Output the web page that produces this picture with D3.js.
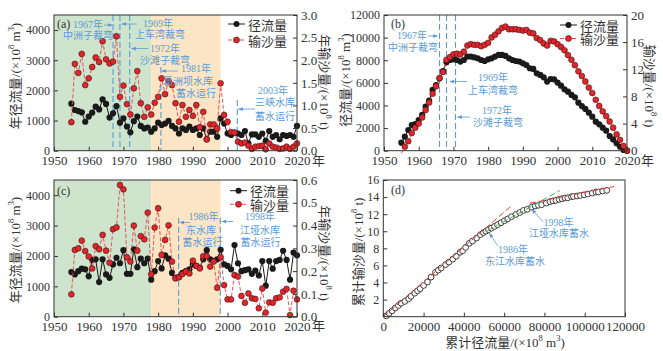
<!DOCTYPE html>
<html>
<head>
<meta charset="utf-8">
<script src="https://cdn.jsdelivr.net/npm/d3@7"></script>
<style>
body { margin: 0; background: #fff; }
svg { display: block; }
</style>
</head>
<body>
<script>
// years shared by every panel
var years = [1955,1956,1957,1958,1959,1960,1961,1962,1963,1964,
    1965,1966,1967,1968,1969,1970,1971,1972,1973,1974,
    1975,1976,1977,1978,1979,1980,1981,1982,1983,1984,
    1985,1986,1987,1988,1989,1990,1991,1992,1993,1994,
    1995,1996,1997,1998,1999,2000,2001,2002,2003,2004,
    2005,2006,2007,2008,2009,2010,2011,2012,2013,2014,
    2015,2016,2017,2018,2019,2020];

// (a) annual runoff (1e8 m3) and sediment (1e8 t)
var runoffA = [1560,1350,1315,1270,960,1130,1260,1460,1370,1700,
    1550,1100,1240,1480,930,1070,800,610,980,1130,
    820,740,770,630,740,930,850,900,990,820,
    740,570,740,690,800,690,740,520,740,380,
    630,630,460,1070,900,570,520,600,570,520,
    650,240,540,540,460,570,330,650,460,520,
    380,520,490,520,460,820];
var sedimentA = [0.63,1.92,1.72,2.14,1.45,1.60,1.85,2.06,1.96,2.42,
    2.02,1.93,1.97,2.53,1.19,1.44,1.03,0.80,1.38,1.76,
    1.05,0.75,0.96,0.80,1.06,1.19,1.60,1.25,1.54,1.45,
    1.05,0.64,1.01,0.75,0.90,0.77,1.01,0.52,0.86,0.25,
    0.58,0.58,0.49,1.49,0.79,0.64,0.41,0.40,0.20,0.16,
    0.18,0.11,0.04,0.09,0.10,0.11,0.03,0.16,0.09,0.07,
    0.04,0.05,0.09,0.04,0.09,0.16];

// (b) cumulative values
var runoffB = [710,1240,1830,2270,2360,2710,3160,3890,4420,5370,
    5810,6400,7050,7820,8020,8080,8020,7880,8020,8320,
    8320,8260,8170,8020,7930,8080,8170,8320,8470,8470,
    8380,8170,8020,7930,7880,7730,7580,7290,7230,6840,
    6700,6490,6110,6340,6310,6020,5750,5430,5220,4930,
    4720,4250,3950,3690,3360,3010,2570,2330,2040,1770,
    1300,1000,650,350,60,0];
var sedimentB = [-0.4,0.6,1.4,2.6,3.4,4.0,4.9,6.0,7.1,8.4,
    9.5,10.7,11.6,13.4,13.8,14.2,14.3,14.2,14.6,15.5,
    15.7,15.6,15.6,15.4,15.6,15.9,16.7,17.1,17.6,18.1,
    18.3,17.9,17.9,17.9,17.8,17.7,17.8,17.4,17.3,16.6,
    16.3,15.8,15.5,16.2,16.1,15.7,15.3,14.8,14.1,13.4,
    12.6,11.7,11.0,10.2,9.3,8.5,7.5,6.6,5.8,5.1,
    4.3,3.4,2.4,1.6,0.7,0.0];

// (c) annual runoff and sediment
var runoffC = [1470,1390,1500,1580,1560,1330,1870,1890,1140,1890,
    1390,1280,1720,1940,1760,2190,1410,1410,2220,1630,
    1910,1760,1910,1220,1500,1830,1590,2020,1910,1440,
    1280,1310,1440,1500,1560,1720,1670,1610,1890,2190,
    1890,1830,1890,2200,1720,1670,1560,2360,1760,1500,
    1530,1560,1410,1520,1360,1830,1020,1830,1580,1830,
    1870,2170,1870,1220,2110,2020];
var sedimentC = [0.098,0.293,0.300,0.334,0.288,0.264,0.212,0.310,0.296,0.359,
    0.290,0.237,0.384,0.392,0.578,0.559,0.261,0.242,0.400,0.290,
    0.354,0.340,0.457,0.186,0.391,0.476,0.271,0.337,0.401,0.242,
    0.168,0.173,0.187,0.198,0.190,0.246,0.223,0.212,0.266,0.266,
    0.220,0.242,0.127,0.261,0.139,0.076,0.076,0.183,0.176,0.091,
    0.061,0.102,0.081,0.078,0.037,0.124,0.018,0.063,0.061,0.081,
    0.085,0.110,0.122,0.007,0.114,0.076];

// (d) double mass curve
var cumRunoffD = [1470,2860,4360,5940,7500,8830,10700,12590,13730,15620,
    17010,18290,20010,21950,23710,25900,27310,28720,30940,32570,
    34480,36240,38150,39370,40870,42700,44290,46310,48220,49660,
    50940,52250,53690,55190,56750,58470,60140,61750,63640,65830,
    67720,69550,71440,73640,75360,77030,78590,80950,82710,84210,
    85740,87300,88710,90230,91590,93420,94440,96270,97850,99680,
    101550,103720,105590,106810,108920,110940];
var cumSedimentD = [0.10,0.39,0.69,1.02,1.31,1.58,1.79,2.10,2.39,2.75,
    3.04,3.28,3.66,4.06,4.63,5.19,5.45,5.70,6.10,6.39,
    6.74,7.08,7.54,7.72,8.11,8.59,8.86,9.20,9.60,9.84,
    10.01,10.18,10.37,10.57,10.76,11.00,11.23,11.44,11.71,11.97,
    12.19,12.44,12.56,12.82,12.96,13.04,13.11,13.30,13.47,13.56,
    13.62,13.73,13.81,13.89,13.92,14.05,14.07,14.13,14.19,14.27,
    14.36,14.47,14.59,14.60,14.71,14.79];
var fitLinesD = [
    {x0: 0, y0: 0, x1: 64200, y1: 13.1, color: "red"},
    {x0: 51300, y0: 10.0, x1: 87700, y1: 14.77, color: "green"},
    {x0: 72800, y0: 13.28, x1: 114500, y1: 15.23, color: "red"}
];

var periods = [[1950, 1978], [1978, 1998]];
var eventsA = [1967, 1969, 1971.8, 1980.8, 2002.8];
var eventsB = [1966, 1968, 1970.6];
var eventsC = [1985.9, 1997.9];

var yearTicks = [1950,1960,1970,1980,1990,2000,2010,2020];

var width = 663, height = 351;
var blue = "#5b9bd5";
var red = "#e3262b";
var ink = "#333";
var font = '"Liberation Serif","Noto Sans CJK SC",serif';
var cjk = '"Noto Sans CJK SC","Liberation Serif",sans-serif';

var svg = d3.select("body").append("svg")
    .attr("width", width)
    .attr("height", height);

svg.append("defs").append("marker")
    .attr("id", "arr")
    .attr("viewBox", "0 0 8 8")
    .attr("refX", 7).attr("refY", 4)
    .attr("markerUnits", "userSpaceOnUse")
    .attr("markerWidth", 5).attr("markerHeight", 5)
    .attr("orient", "auto")
    .append("path").attr("d", "M0,1 L8,4 L0,7 z").attr("fill", blue);

function styleAxis(g, size) {
    g.attr("font-family", font).attr("font-size", size);
    g.select(".domain").remove();
    g.selectAll(".tick line").attr("stroke", ink);
    g.selectAll(".tick text").attr("fill", ink);
}

function frame(x, y) {
    svg.append("rect")
        .attr("x", x.range()[0]).attr("y", y.range()[1])
        .attr("width", x.range()[1] - x.range()[0])
        .attr("height", y.range()[0] - y.range()[1])
        .attr("fill", "none").attr("stroke", ink).attr("stroke-width", 1);
}

function bottomAxis(x, y, ticks, fmt) {
    var g = svg.append("g")
        .attr("transform", `translate(0,${y.range()[0]})`)
        .call(d3.axisBottom(x).tickValues(ticks).tickSize(-4).tickPadding(5).tickFormat(fmt));
    styleAxis(g, 13);
}

function leftAxis(x, y, ticks, fmt) {
    var g = svg.append("g")
        .attr("transform", `translate(${x.range()[0]},0)`)
        .call(d3.axisLeft(y).tickValues(ticks).tickSize(-4).tickPadding(4).tickFormat(fmt));
    styleAxis(g, 12);
}

function rightAxis(x, y, ticks, fmt) {
    var g = svg.append("g")
        .attr("transform", `translate(${x.range()[1]},0)`)
        .call(d3.axisRight(y).tickValues(ticks).tickSize(-4).tickPadding(4).tickFormat(fmt));
    styleAxis(g, 13);
}

// rotated axis title with superscripts: parts = [[text, isSup], ...]
function title(x, y, rot, parts, size) {
    var t = svg.append("text")
        .attr("transform", `translate(${x},${y}) rotate(${rot})`)
        .attr("text-anchor", "middle")
        .attr("dominant-baseline", "central")
        .attr("font-family", font)
        .attr("font-size", size)
        .attr("fill", ink);
    var wasSup = false;
    parts.forEach(function(p) {
        var s = t.append("tspan").text(p[0]);
        if (p[1]) {
            s.attr("dy", -4).attr("font-size", size * 0.65);
        } else if (wasSup) {
            s.attr("dy", 4);
        }
        wasSup = !!p[1];
    });
}

function note(x, y, str, color, size) {
    svg.append("text")
        .attr("x", x).attr("y", y)
        .attr("dominant-baseline", "central")
        .attr("font-family", font)
        .attr("font-size", size || 10)
        .attr("fill", color || blue)
        .text(str);
}

function arrow(x1, y1, x2, y2) {
    svg.append("line")
        .attr("x1", x1).attr("y1", y1).attr("x2", x2).attr("y2", y2)
        .attr("stroke", blue).attr("stroke-width", 0.8)
        .attr("marker-end", "url(#arr)");
}

function vline(x, y, year, top) {
    svg.append("line")
        .attr("x1", x(year)).attr("x2", x(year))
        .attr("y1", top == null ? y.range()[1] : top)
        .attr("y2", y.range()[0])
        .attr("stroke", blue).attr("stroke-width", 1.1)
        .attr("stroke-dasharray", "6,3");
}

function backgrounds(x, y) {
    var fills = ["#cfe4cd", "#fbe5c5"];
    svg.selectAll(null)
        .data(periods)
        .enter()
        .append("rect")
        .attr("x", function(d) { return x(d[0]); })
        .attr("width", function(d) { return x(d[1]) - x(d[0]); })
        .attr("y", y.range()[1])
        .attr("height", y.range()[0] - y.range()[1])
        .attr("fill", function(d, i) { return fills[i]; });
}

function series(x, y, values, isRed) {
    var line = d3.line()
        .x(function(d, i) { return x(years[i]); })
        .y(function(d) { return y(d); });
    svg.append("path")
        .datum(values)
        .attr("d", line)
        .attr("fill", "none")
        .attr("stroke", isRed ? "#e8454a" : "#1a1a1a")
        .attr("stroke-width", isRed ? 0.9 : 1)
        .attr("stroke-dasharray", isRed ? "4,2" : null);
    var pts = values.map(function(v, i) { return {yr: years[i], v: v}; })
        .filter(function(d) { return d.v >= 0; });
    svg.append("g").selectAll("circle")
        .data(pts)
        .enter()
        .append("circle")
        .attr("cx", function(d) { return x(d.yr); })
        .attr("cy", function(d) { return y(d.v); })
        .attr("r", isRed ? 2.9 : 3.1)
        .attr("fill", isRed ? red : "#1a1a1a")
        .attr("stroke", isRed ? "#3a1010" : "none")
        .attr("stroke-width", 0.6);
}

function legend(x, y1, y2) {
    [[y1, false, "径流量"], [y2, true, "输沙量"]].forEach(function(r) {
        svg.append("line")
            .attr("x1", x).attr("x2", x + 17).attr("y1", r[0]).attr("y2", r[0])
            .attr("stroke", r[1] ? "#e8454a" : "#1a1a1a")
            .attr("stroke-width", 1)
            .attr("stroke-dasharray", r[1] ? "4,2" : null);
        svg.append("circle")
            .attr("cx", x + 8.5).attr("cy", r[0]).attr("r", 3)
            .attr("fill", r[1] ? red : "#1a1a1a")
            .attr("stroke", r[1] ? "#3a1010" : "none").attr("stroke-width", 0.6);
        svg.append("text")
            .attr("x", x + 20).attr("y", r[0])
            .attr("dominant-baseline", "central")
            .attr("font-family", cjk).attr("font-size", 13)
            .attr("fill", ink)
            .text(r[2]);
    });
}

var yearFmt = d3.format("d");
var intFmt = d3.format("d");
var oneDec = d3.format(".1f");

// ---------- panel (a)
var xA = d3.scaleLinear().domain([1950, 2020]).range([54, 297]);
var yAl = d3.scaleLinear().domain([0, 4500]).range([150.7, 15]);
var yAr = d3.scaleLinear().domain([0, 3]).range([150.7, 15]);

backgrounds(xA, yAl);
vline(xA, yAl, eventsA[0]);
vline(xA, yAl, eventsA[1]);
vline(xA, yAl, eventsA[2]);
vline(xA, yAl, eventsA[3], 67);
vline(xA, yAl, eventsA[4], 100);
series(xA, yAl, runoffA, false);
series(xA, yAr, sedimentA, true);
frame(xA, yAl);
bottomAxis(xA, yAl, yearTicks, yearFmt);
leftAxis(xA, yAl, [0, 1000, 2000, 3000, 4000], intFmt);
rightAxis(xA, yAr, [0, 0.5, 1, 1.5, 2, 2.5, 3], oneDec);
legend(228, 24, 40);
note(57, 24, "(a)", ink, 12);
note(73, 24, "1967年");
arrow(104, 25, 112, 25);
note(63, 35.5, "中洲子裁弯");
note(143, 23, "1969年");
arrow(137, 24, 122, 24);
note(135, 34.5, "上车湾裁弯");
note(150, 48, "1972年");
arrow(148, 48.5, 131.5, 48.5);
note(140, 60, "沙滩子裁弯");
note(181, 68.5, "1981年");
arrow(178, 71, 162, 71);
note(163, 81.5, "葛洲坝水库");
note(176, 93.5, "蓄水运行");
note(258, 90, "2003年");
note(255, 102, "三峡水库");
note(255, 116, "蓄水运行");
arrow(255, 109, 238.5, 109);
title(15, 76, -90, [["年径流量/(×10"], ["8", 1], [" m"], ["3", 1], [")"]], 13);
title(325, 82, 90, [["年输沙量/(×10"], ["8", 1], [" t)"]], 13);
note(312, 160.5, "年", ink, 13);

// ---------- panel (b)
var xB = d3.scaleLinear().domain([1950, 2020]).range([384, 627]);
var yBl = d3.scaleLinear().domain([0, 12000]).range([150.7, 15]);
var yBr = d3.scaleLinear().domain([0, 20]).range([150.7, 15]);

eventsB.forEach(function(e) { vline(xB, yBl, e); });
series(xB, yBl, runoffB, false);
series(xB, yBr, sedimentB, true);
frame(xB, yBl);
bottomAxis(xB, yBl, yearTicks, yearFmt);
leftAxis(xB, yBl, [0, 2000, 4000, 6000, 8000, 10000, 12000], intFmt);
rightAxis(xB, yBr, [0, 4, 8, 12, 16, 20], intFmt);
legend(560, 25, 38.5);
note(391, 24, "(b)", ink, 12);
note(397, 35, "1967年");
arrow(428, 36, 437.5, 36);
note(388, 47, "中洲子裁弯");
note(478, 77.5, "1969年");
arrow(467, 81.5, 450, 81.5);
note(468, 90, "上车湾裁弯");
note(482, 110, "1972年");
arrow(470, 117, 457.5, 117);
note(473, 122, "沙滩子裁弯");
title(345, 80, -90, [["径流量/(×10"], ["8", 1], [" m"], ["3", 1], [")"]], 13);
title(650, 86, 90, [["输沙量/(×10"], ["8", 1], [" t)"]], 13);
note(641, 160.5, "年", ink, 13);

// ---------- panel (c)
var xC = d3.scaleLinear().domain([1950, 2020]).range([54, 297]);
var yCl = d3.scaleLinear().domain([0, 4500]).range([316.7, 180]);
var yCr = d3.scaleLinear().domain([0, 0.6]).range([316.7, 180]);

backgrounds(xC, yCl);
vline(xC, yCl, eventsC[0], 217.7);
vline(xC, yCl, eventsC[1], 217.7);
series(xC, yCl, runoffC, false);
series(xC, yCr, sedimentC, true);
frame(xC, yCl);
bottomAxis(xC, yCl, yearTicks, yearFmt);
leftAxis(xC, yCl, [0, 1000, 2000, 3000, 4000], intFmt);
rightAxis(xC, yCr, [0, 0.1, 0.2, 0.3, 0.4, 0.5, 0.6], oneDec);
legend(230, 190.7, 204.3);
note(57, 190.5, "(c)", ink, 12);
note(188.5, 216.5, "1986年");
arrow(190, 222.5, 180, 222.5);
note(186, 230, "东水库");
note(182.5, 242.5, "蓄水运行");
note(245, 216.5, "1998年");
arrow(233, 221.5, 222, 221.5);
note(240, 230, "江垭水库");
note(240.5, 242.5, "蓄水运行");
title(15, 250, -90, [["年径流量/(×10"], ["8", 1], [" m"], ["3", 1], [")"]], 13);
title(325, 253, 90, [["年输沙量/(×10"], ["8", 1], [" t)"]], 13);
note(312, 325, "年", ink, 13);

// ---------- panel (d)
var xD = d3.scaleLinear().domain([0, 120000]).range([383.3, 625]);
var yD = d3.scaleLinear().domain([0, 16]).range([316.7, 180]);

svg.append("g").selectAll("circle")
    .data(cumRunoffD.map(function(v, i) { return {x: v, y: cumSedimentD[i]}; }))
    .enter()
    .append("circle")
    .attr("cx", function(d) { return xD(d.x); })
    .attr("cy", function(d) { return yD(d.y); })
    .attr("r", 2.9)
    .attr("fill", "#fff")
    .attr("stroke", "#3c3c3c")
    .attr("stroke-width", 1);

svg.append("g").selectAll("line")
    .data(fitLinesD)
    .enter()
    .append("line")
    .attr("x1", function(d) { return xD(d.x0); })
    .attr("y1", function(d) { return yD(d.y0); })
    .attr("x2", function(d) { return xD(d.x1); })
    .attr("y2", function(d) { return yD(d.y1); })
    .attr("stroke", function(d) { return d.color === "red" ? "#e8403a" : "#4caf50"; })
    .attr("stroke-width", 1)
    .attr("stroke-dasharray", "6,3");

frame(xD, yD);
bottomAxis(xD, yD, [0, 20000, 40000, 60000, 80000, 100000, 120000], intFmt);
leftAxis(xD, yD, [2, 4, 6, 8, 10, 12, 14, 16], intFmt);
note(391, 190, "(d)", ink, 12);
arrow(498, 246, 489.5, 233.5);
note(498, 249, "1986年");
note(485, 261, "东江水库蓄水");
arrow(543, 221.5, 532, 209.5);
note(543.5, 222.5, "1998年");
note(529, 233.5, "江垭水库蓄水");
title(358, 252, -90, [["累计输沙量/(×10"], ["8", 1], [" t)"]], 13);
title(505, 341.5, 0, [["累计径流量/(×10"], ["8", 1], [" m"], ["3", 1], [")"]], 13);
</script>
</body>
</html>
